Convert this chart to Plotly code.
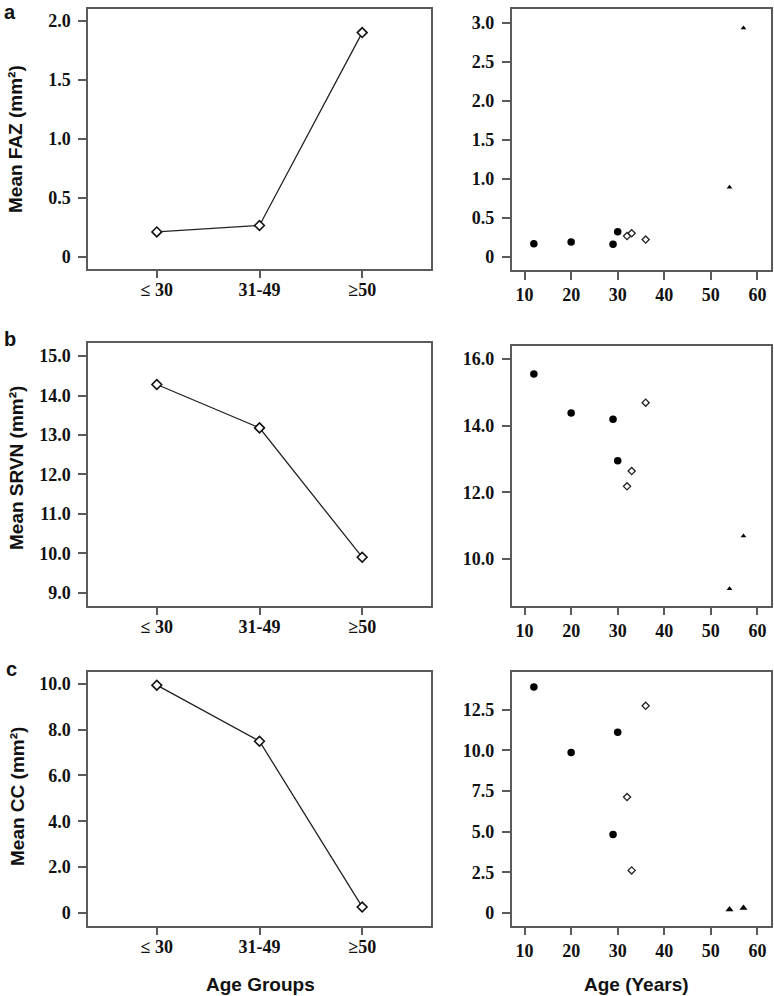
import plotly.graph_objects as go

W, H = 774, 996

# ---------------- data ----------------
age_groups = ["≤ 30", "31-49", "≥50"]
mean_faz_group = [0.21, 0.265, 1.90]
mean_srvn_group = [14.28, 13.18, 9.90]
mean_cc_group = [9.95, 7.50, 0.25]

# individual subjects (age, value) by group
young_age = [12, 20, 29, 30]
mid_age = [32, 33, 36]
old_age = [54, 57]

faz_young = [0.165, 0.19, 0.16, 0.32]
faz_mid = [0.265, 0.30, 0.22]
faz_old = [0.89, 2.93]

srvn_young = [15.55, 14.38, 14.19, 12.95]
srvn_mid = [12.18, 12.64, 14.69]
srvn_old = [9.11, 10.69]

cc_young = [13.9, 9.87, 4.82, 11.12]
cc_mid = [7.13, 2.62, 12.74]
cc_old = [0.22, 0.31]

# tick labels
faz_group_ticks = [0, 0.5, 1.0, 1.5, 2.0]
faz_group_ticktext = ["0", "0.5", "1.0", "1.5", "2.0"]
faz_age_ticks = [0, 0.5, 1.0, 1.5, 2.0, 2.5, 3.0]
faz_age_ticktext = ["0", "0.5", "1.0", "1.5", "2.0", "2.5", "3.0"]
srvn_group_ticks = [9, 10, 11, 12, 13, 14, 15]
srvn_group_ticktext = ["9.0", "10.0", "11.0", "12.0", "13.0", "14.0", "15.0"]
srvn_age_ticks = [10, 12, 14, 16]
srvn_age_ticktext = ["10.0", "12.0", "14.0", "16.0"]
cc_group_ticks = [0, 2, 4, 6, 8, 10]
cc_group_ticktext = ["0", "2.0", "4.0", "6.0", "8.0", "10.0"]
cc_age_ticks = [0, 2.5, 5, 7.5, 10, 12.5]
cc_age_ticktext = ["0", "2.5", "5.0", "7.5", "10.0", "12.5"]
age_ticks = [10, 20, 30, 40, 50, 60]

# ---------------- layout helpers ----------------
def xdom(a, b):
    return [a / W, b / W]

def ydom(top, bottom):
    return [1 - bottom / H, 1 - top / H]

FRAME = "#5a5a5a"
tickfont = dict(family="Liberation Serif", size=18, color="#111", weight="bold")

def axis_common():
    return dict(showline=True, mirror=True, linecolor=FRAME, linewidth=1.5,
                ticks="outside", ticklen=8, tickwidth=1.5, tickcolor=FRAME,
                showgrid=False, zeroline=False, tickfont=tickfont, fixedrange=True)

fig = go.Figure()

panels = [
    dict(g=mean_faz_group, y=faz_young, m=faz_mid, o=faz_old, tri=5,
         lr=[-0.1, 2.1], rr=[-0.17, 3.17],
         lt=(faz_group_ticks, faz_group_ticktext), rt=(faz_age_ticks, faz_age_ticktext),
         ldom=ydom(9, 268.5), rdom=ydom(9.3, 270)),
    dict(g=mean_srvn_group, y=srvn_young, m=srvn_mid, o=srvn_old, tri=5,
         lr=[8.67, 15.34], rr=[8.6, 16.4],
         lt=(srvn_group_ticks, srvn_group_ticktext), rt=(srvn_age_ticks, srvn_age_ticktext),
         ldom=ydom(342.7, 605.7), rdom=ydom(345.7, 605.7)),
    dict(g=mean_cc_group, y=cc_young, m=cc_mid, o=cc_old, tri=7,
         lr=[-0.57, 10.54], rr=[-0.78, 14.8],
         lt=(cc_group_ticks, cc_group_ticktext), rt=(cc_age_ticks, cc_age_ticktext),
         ldom=ydom(671.7, 925.7), rdom=ydom(672.3, 925.7)),
]

layout = dict(width=W, height=H, plot_bgcolor="white", paper_bgcolor="white",
              showlegend=False, margin=dict(l=0, r=0, t=0, b=0, autoexpand=False))

ai = 1
for p in panels:
    xl, yl = f"x{ai}", f"y{ai}"
    fig.add_trace(go.Scatter(
        x=age_groups, y=p["g"], mode="lines+markers", xaxis=xl, yaxis=yl,
        line=dict(color="#222", width=1.3),
        marker=dict(symbol="diamond", size=7.5, color="white",
                    line=dict(color="#111", width=1.6))))
    xa = axis_common()
    xa.update(domain=xdom(88, 431), anchor=yl, type="category",
              range=[-0.67, 2.67], ticklabelstandoff=-4)
    ya = axis_common()
    ya.update(domain=p["ldom"], anchor=xl, range=p["lr"],
              tickvals=p["lt"][0], ticktext=p["lt"][1], ticklabelstandoff=4)
    layout[f"xaxis{ai}"] = xa
    layout[f"yaxis{ai}"] = ya
    ai += 1

    xr, yr = f"x{ai}", f"y{ai}"
    fig.add_trace(go.Scatter(
        x=young_age, y=p["y"], mode="markers", xaxis=xr, yaxis=yr,
        marker=dict(symbol="circle", size=7.5, color="#000")))
    fig.add_trace(go.Scatter(
        x=mid_age, y=p["m"], mode="markers", xaxis=xr, yaxis=yr,
        marker=dict(symbol="diamond", size=5.5, color="white",
                    line=dict(color="#222", width=1.3))))
    fig.add_trace(go.Scatter(
        x=old_age, y=p["o"], mode="markers", xaxis=xr, yaxis=yr,
        marker=dict(symbol="triangle-up", size=p["tri"], color="#000")))
    xa = axis_common()
    xa.update(domain=xdom(511.5, 770.5), anchor=yr, range=[7.2, 62.8],
              tickvals=age_ticks, ticklabelstandoff=0)
    ya = axis_common()
    ya.update(domain=p["rdom"], anchor=xr, range=p["rr"],
              tickvals=p["rt"][0], ticktext=p["rt"][1], ticklabelstandoff=4)
    layout[f"xaxis{ai}"] = xa
    layout[f"yaxis{ai}"] = ya
    ai += 1

titlefont = dict(family="Liberation Sans", size=19, color="#111", weight="bold")
labelfont = dict(family="Liberation Sans", size=20, color="#111", weight="bold")

ann = []
def add_ann(text, px, py, font, angle=0):
    ann.append(dict(text=text, x=px / W, y=1 - py / H, xref="paper", yref="paper",
                    showarrow=False, xanchor="center", yanchor="middle",
                    textangle=angle, font=font))

add_ann("Mean FAZ (mm²)", 16, 139, titlefont, -90)
add_ann("Mean SRVN (mm²)", 16, 468, titlefont, -90)
add_ann("Mean CC (mm²)", 17, 797, titlefont, -90)
add_ann("Age Groups", 260, 984, titlefont)
add_ann("Age (Years)", 636, 984, titlefont)
add_ann("a", 10, 12, labelfont)
add_ann("b", 10, 339, labelfont)
add_ann("c", 11, 669, labelfont)

layout["annotations"] = ann
fig.update_layout(**layout)
fig.write_html("out.html", config={"displayModeBar": False},
               post_script="document.body.style.margin='0';document.body.style.overflow='hidden';")
